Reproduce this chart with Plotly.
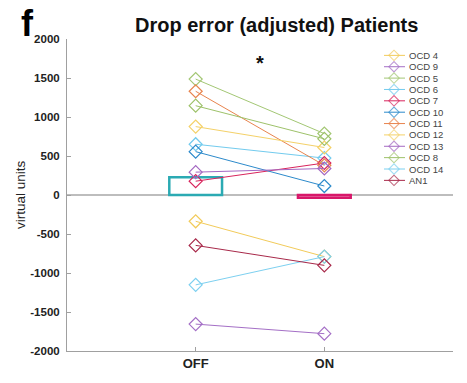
import plotly.graph_objects as go

# ---- data ----
conditions = ["OFF", "ON"]
cond_x = [1, 2]
subjects = ["OCD 4", "OCD 9", "OCD 5", "OCD 6", "OCD 7", "OCD 10",
            "OCD 11", "OCD 12", "OCD 13", "OCD 8", "OCD 14", "AN1"]
off_vals = [-337, -1655, 1486, 651, 177, 556, 1330, 877, 293, 1145, -1152, -646]
on_vals = [-790, -1778, 787, 473, 410, 115, 380, 609, 340, 720, -790, -902]
colors = ["#F2CB5A", "#A46FC6", "#A3C774", "#72CBEE", "#D8245C", "#2C8ACB",
          "#E8844E", "#F4D168", "#A468C2", "#9EC26A", "#7DD0F0", "#A8294A"]
bar_colors = ["#2BAAB3", "#D8176A"]
yticks = [-2000, -1500, -1000, -500, 0, 500, 1000, 1500, 2000]

FONT = "Liberation Sans, Arial, sans-serif"

# plot area in pixels
PL, PR, PT, PB = 67, 453, 39, 363


def px(xp):
    return (xp - PL) / (PR - PL)


def py(yp):
    return (PB - yp) / (PB - PT)


off_mean = sum(off_vals) / len(off_vals)
on_mean = sum(on_vals) / len(on_vals)

fig = go.Figure()

# mean bars (outlined)
fig.add_trace(go.Bar(
    x=cond_x, y=[off_mean, on_mean], base=0, width=0.41,
    marker=dict(color="rgba(0,0,0,0)", line=dict(color=bar_colors, width=2.5)),
    showlegend=False, hoverinfo="skip"))

# subject lines
for name, a, b, c in zip(subjects, off_vals, on_vals, colors):
    fig.add_trace(go.Scatter(
        x=cond_x, y=[a, b], mode="lines+markers", name=name,
        line=dict(color=c, width=1),
        marker=dict(symbol="diamond-open", size=10, color=c, line=dict(width=1.2, color=c)),
        showlegend=False))

# custom compact legend on a pixel-like overlay axis
L_X0, L_XM, L_X1, L_TOP, L_STEP = 384, 394, 405, 56, 11.8
for i, (name, c) in enumerate(zip(subjects, colors)):
    yy = L_TOP + i * L_STEP
    fig.add_trace(go.Scatter(
        x=[L_X0, L_XM, L_X1], y=[yy, yy, yy], xaxis="x2", yaxis="y2",
        mode="lines+markers", line=dict(color=c, width=1),
        marker=dict(symbol=["circle", "diamond-open", "circle"], size=[0, 8, 0],
                    color=c, line=dict(width=1.1, color=c)),
        showlegend=False, hoverinfo="skip", cliponaxis=False))
    fig.add_annotation(x=px(L_X1 + 2), y=py(yy), xref="paper", yref="paper", text=name,
                       showarrow=False, xanchor="left", yanchor="middle",
                       font=dict(family=FONT, size=9.5, color="#444"))

# texts
fig.add_annotation(x=px(276), y=py(24), xref="paper", yref="paper",
                   text="<b>Drop error (adjusted) Patients</b>", showarrow=False,
                   xanchor="center", yanchor="middle",
                   font=dict(family=FONT, size=20, color="#111"))
fig.add_annotation(x=px(27), y=py(0), xref="paper", yref="paper", text="<b>f</b>",
                   showarrow=False, xanchor="center", yanchor="top",
                   font=dict(family=FONT, size=36, color="#000"))
fig.add_annotation(x=1.5, y=1690, xref="x", yref="y", text="<b>*</b>", showarrow=False,
                   font=dict(family=FONT, size=20, color="#111"))
fig.add_annotation(x=px(20), y=py(201), xref="paper", yref="paper", text="virtual units",
                   textangle=-90, showarrow=False, xanchor="center", yanchor="middle",
                   font=dict(family=FONT, size=13.5, color="#222"))

fig.update_layout(
    width=467, height=383,
    margin=dict(l=PL, r=467 - PR, t=PT, b=383 - PB),
    paper_bgcolor="white", plot_bgcolor="white",
    font=dict(family=FONT),
    xaxis=dict(range=[0, 3], tickvals=cond_x,
               ticktext=["<b>%s</b>" % c for c in conditions],
               showline=True, linecolor="#A0A0A0", linewidth=1,
               ticks="inside", ticklen=4, tickcolor="#A0A0A0",
               showgrid=False, zeroline=False,
               tickfont=dict(family=FONT, size=13, color="#222")),
    yaxis=dict(range=[-2000, 2000], tickvals=yticks,
               ticktext=["<b>%d</b>" % v for v in yticks],
               showline=True, linecolor="#A0A0A0", linewidth=1,
               ticks="inside", ticklen=4, tickcolor="#A0A0A0",
               ticklabelstandoff=4,
               showgrid=False, zeroline=True, zerolinecolor="#BDBDBD", zerolinewidth=1.5,
               tickfont=dict(family=FONT, size=11.5, color="#222")),
    xaxis2=dict(range=[PL, PR], overlaying="x", anchor="y2", visible=False),
    yaxis2=dict(range=[PB, PT], overlaying="y", anchor="x2", visible=False),
)

fig.write_html("out.html")
